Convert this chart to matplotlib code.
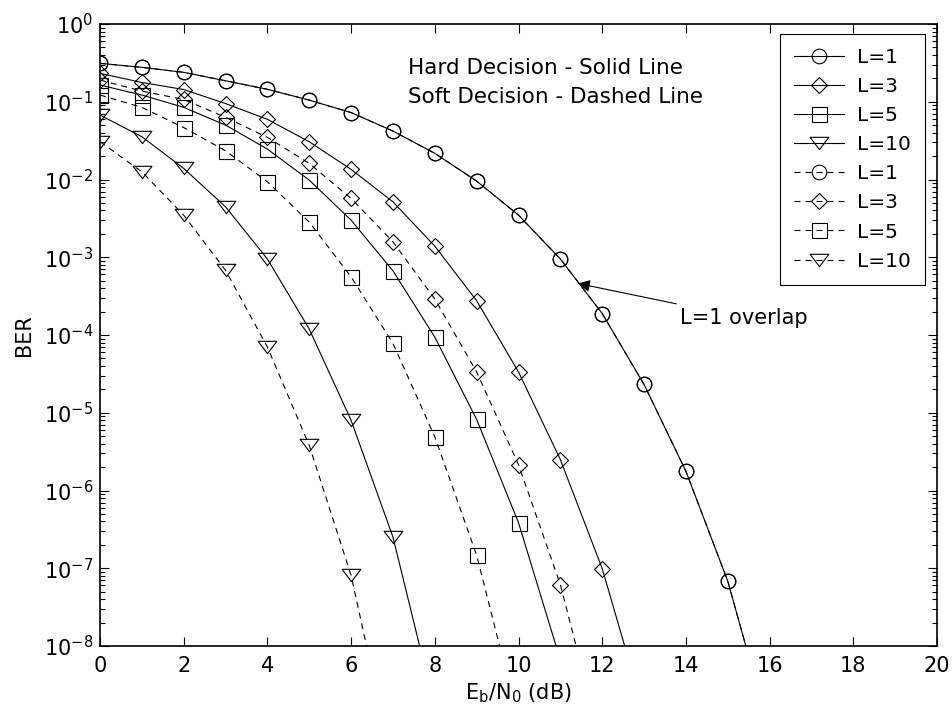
"""
BER vs Eb/N0, hard and soft decision, L = 1, 3, 5, 10
"""

import numpy as np
import matplotlib
matplotlib.use("Agg")
import matplotlib.pyplot as plt
from matplotlib.path import Path

# Eb/N0 grid (dB), markers every 1 dB
ebn0 = np.arange(0, 17)

# hard decision (solid); last value of each list lies just under the axis floor
hard_L1 = [0.312, 0.277, 0.239, 0.186, 0.1445, 0.105, 0.0726, 0.042, 0.0217, 0.00953,
           0.00348, 9.5e-4, 1.89e-4, 2.31e-5, 1.77e-6, 6.84e-8, 8e-10]
hard_L3 = [0.232, 0.177, 0.1436, 0.0948, 0.0594, 0.0306, 0.01349, 0.00516, 0.00139,
           2.76e-4, 3.35e-5, 2.5e-6, 9.9e-8, 1.4e-9]
hard_L5 = [0.164, 0.122, 0.0847, 0.0501, 0.0246, 0.00982, 0.0030, 6.68e-4, 9.4e-5,
           8.2e-6, 3.86e-7, 6.6e-9]
hard_L10 = [0.0674, 0.0355, 0.0139, 0.00445, 9.5e-4, 1.19e-4, 8.0e-6, 2.52e-7, 1.6e-9]

# soft decision (dashed); L=1 is the same curve as hard
soft_L1 = list(hard_L1)
soft_L3 = [0.190, 0.137, 0.107, 0.063, 0.0348, 0.0161, 0.00571, 0.00158, 2.9e-4,
           3.35e-5, 2.15e-6, 6.15e-8, 5e-10]
soft_L5 = [0.122, 0.0847, 0.0466, 0.0234, 0.00934, 0.00283, 5.6e-4, 7.8e-5, 4.9e-6,
           1.47e-7, 1.1e-9]
soft_L10 = [0.0306, 0.01256, 0.00348, 6.8e-4, 7.0e-5, 3.8e-6, 8.1e-8, 2.8e-10]

labels = ["L=1", "L=3", "L=5", "L=10"]

# wide, flat downward triangle like the MATLAB one
tri = Path([(-1, 0.66), (1, 0.66), (0, -0.66), (-1, 0.66)],
           [Path.MOVETO, Path.LINETO, Path.LINETO, Path.CLOSEPOLY])
markers = [("o", 10.5), ("D", 8.3), ("s", 10.8), (tri, 13.5)]

plt.rcParams["font.family"] = "DejaVu Sans"
plt.rcParams["mathtext.fontset"] = "dejavusans"
plt.rcParams["axes.unicode_minus"] = False

fig = plt.figure(figsize=(9.52, 7.17), dpi=100)
ax = fig.add_axes([100 / 952, 71 / 717, 837 / 952, 622 / 717])

lw = 0.8
for data, (m, ms), lab in zip([hard_L1, hard_L3, hard_L5, hard_L10], markers, labels):
    ax.semilogy(ebn0[:len(data)], data, color="k", lw=lw, marker=m, ms=ms,
                mfc="none", mec="k", mew=0.8, label=lab)
for data, (m, ms), lab in zip([soft_L1, soft_L3, soft_L5, soft_L10], markers, labels):
    ax.semilogy(ebn0[:len(data)], data, color="k", lw=lw, marker=m, ms=ms,
                mfc="none", mec="k", mew=0.8, dashes=(5.4, 4.5), label=lab)

ax.set_xlim(0, 20)
ax.set_ylim(1e-8, 1)
ax.set_xticks(np.arange(0, 21, 2))
ax.set_yticks([10.0 ** k for k in range(-8, 1)])
ax.yaxis.set_minor_locator(matplotlib.ticker.LogLocator(base=10, subs=np.arange(2, 10), numticks=20))
ax.yaxis.set_minor_formatter(matplotlib.ticker.NullFormatter())

ax.tick_params(which="both", direction="in", top=True, right=True, width=0.8)
ax.tick_params(which="major", length=6.5, labelsize=15)
ax.tick_params(axis="x", pad=7)
ax.tick_params(axis="y", pad=5)
ax.tick_params(which="minor", length=3.5)
for s in ax.spines.values():
    s.set_linewidth(1.2)

ax.set_xlabel(r"E$_\mathregular{b}$/N$_0$ (dB)", fontsize=15, labelpad=4)
ax.set_ylabel("BER", fontsize=15, labelpad=7)

ax.text(7.36, 0.269, "Hard Decision - Solid Line", fontsize=15.5, va="center", ha="left")
ax.text(7.36, 0.116, "Soft Decision - Dashed Line", fontsize=15.5, va="center", ha="left")

ax.annotate("L=1 overlap", xy=(11.42, 4.6e-4), xytext=(13.85, 1.67e-4),
            fontsize=15, va="center", ha="left",
            arrowprops=dict(arrowstyle="-|>", color="k", lw=0.8, mutation_scale=18,
                            shrinkA=4, shrinkB=0))

leg = ax.legend(loc="upper right", bbox_to_anchor=(0.9857, 0.9839), borderaxespad=0,
                fontsize=14.5, handlelength=2.5, handletextpad=0.65, labelspacing=0.5,
                borderpad=0.7, fancybox=False, framealpha=1, edgecolor="k")
leg.get_frame().set_linewidth(0.8)

fig.savefig("out.png", dpi=100)
